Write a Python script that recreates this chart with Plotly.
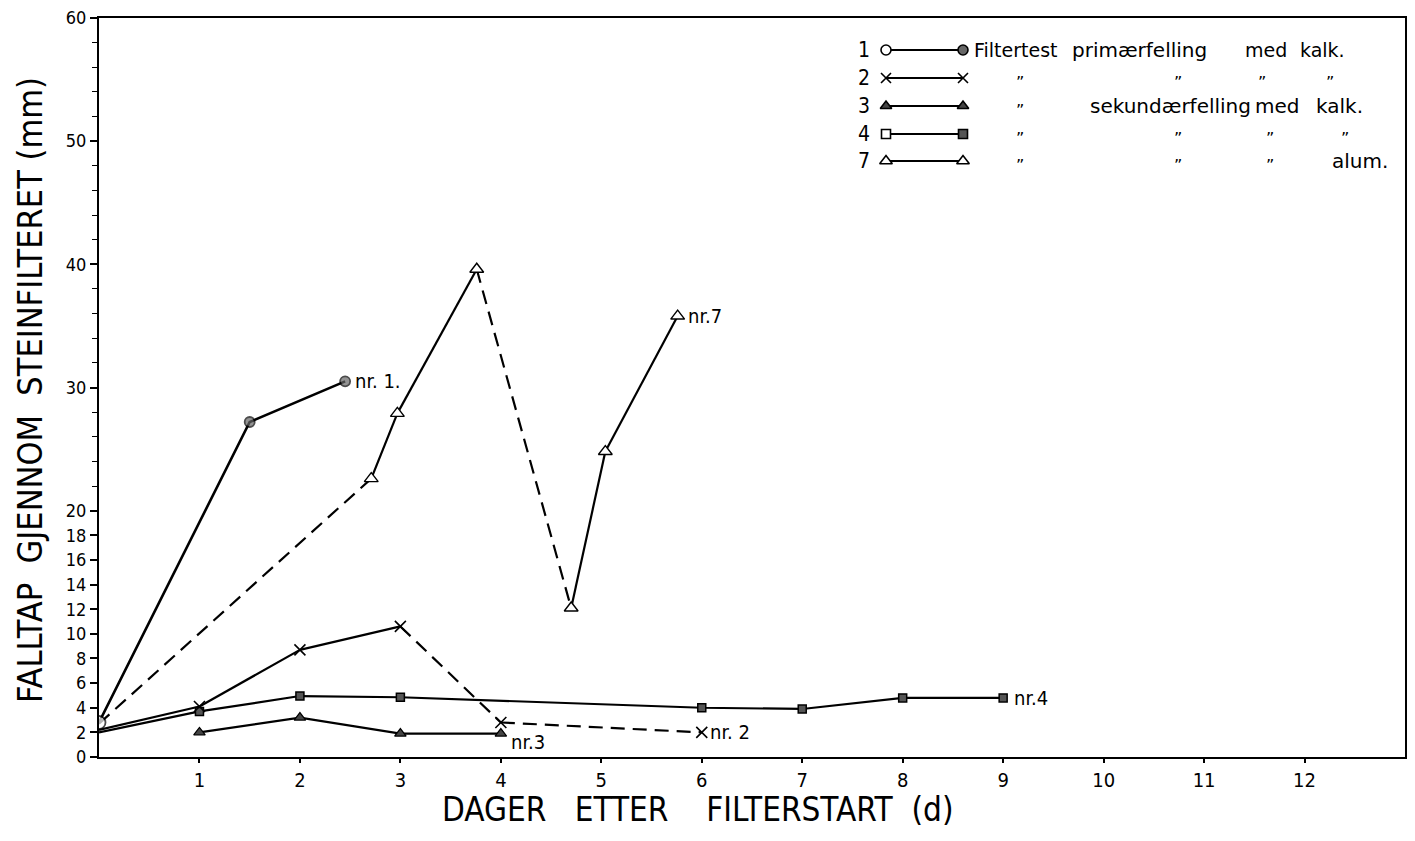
import plotly.graph_objects as go

# ---------------- data ----------------
s1_x = [0, 1.5, 2.45]
s1_y = [2.8, 27.2, 30.5]

s2_x = [0, 1, 2, 3, 4, 6]
s2_y = [2.2, 4.1, 8.7, 10.6, 2.8, 2.0]
s2_dashed = [False, False, False, True, True]

s3_x = [1, 2, 3, 4]
s3_y = [2.0, 3.2, 1.9, 1.9]

s4_x = [0, 1, 2, 3, 6, 7, 8, 9]
s4_y = [2.0, 3.7, 4.95, 4.85, 4.0, 3.9, 4.8, 4.8]

s7_x = [0, 2.71, 2.97, 3.76, 4.7, 5.04, 5.76]
s7_y = [2.7, 22.6, 27.9, 39.6, 12.1, 24.8, 35.8]
s7_dashed = [True, False, False, True, False, False]

x_ticks = list(range(1, 13))
y_ticks = [0, 2, 4, 6, 8, 10, 12, 14, 16, 18, 20, 30, 40, 50, 60]

legend_nums = ["1", "2", "3", "4", "7"]
x_title = "DAGER   ETTER    FILTERSTART  (d)"
y_title = "FALLTAP  GJENNOM  STEINFILTERET (mm)"

COND = "DejaVu Sans Condensed, Liberation Sans Narrow, Roboto Condensed, DejaVu Sans, sans-serif"
WIDE = "DejaVu Sans, Verdana, sans-serif"

# page geometry (the html body has an 8px margin)
BODY = 8
PAGE_W, PAGE_H = 1415, 841
L, R, T, B = 99, 1405, 18, 757          # plot area in page pixels
W, H = PAGE_W - 2 * BODY, PAGE_H - 2 * BODY
ml, mt = L - BODY, T - BODY
mr, mb = W - (R - BODY), H - (B - BODY)

LW = 2.2
DASH = "14px,8px"

fig = go.Figure()


def add_segments(xs, ys, dashed):
    for i in range(len(xs) - 1):
        fig.add_trace(go.Scatter(
            x=[xs[i], xs[i + 1]], y=[ys[i], ys[i + 1]], mode="lines",
            line=dict(color="black", width=LW, dash=DASH if dashed[i] else "solid"),
            showlegend=False, hoverinfo="skip"))


# series lines
fig.add_trace(go.Scatter(x=s1_x, y=s1_y, mode="lines", line=dict(color="black", width=LW + 0.4),
                         showlegend=False))
add_segments(s2_x, s2_y, s2_dashed)
fig.add_trace(go.Scatter(x=s3_x, y=s3_y, mode="lines", line=dict(color="black", width=LW),
                         showlegend=False))
fig.add_trace(go.Scatter(x=s4_x, y=s4_y, mode="lines", line=dict(color="black", width=LW),
                         showlegend=False))
add_segments(s7_x, s7_y, s7_dashed)

# markers
fig.add_trace(go.Scatter(x=s4_x[1:], y=s4_y[1:], mode="markers",
                         marker=dict(symbol="square", size=8, color="#555",
                                     line=dict(color="black", width=1.5)), showlegend=False))
fig.add_trace(go.Scatter(x=s3_x, y=s3_y, mode="markers",
                         marker=dict(symbol="triangle-up", size=10, color="#444",
                                     line=dict(color="black", width=1.2)), showlegend=False))
fig.add_trace(go.Scatter(x=s2_x[1:], y=s2_y[1:], mode="markers",
                         marker=dict(symbol="x-thin", size=11,
                                     line=dict(color="black", width=1.6)), showlegend=False))
fig.add_trace(go.Scatter(x=s7_x[1:], y=s7_y[1:], mode="markers",
                         marker=dict(symbol="triangle-up", size=12, color="white",
                                     line=dict(color="black", width=1.4)), showlegend=False))
fig.add_trace(go.Scatter(x=s1_x, y=s1_y, mode="markers",
                         marker=dict(symbol="circle", size=[13, 10, 10],
                                     color=["white", "#666", "#666"],
                                     line=dict(color="black", width=1.8)), showlegend=False))


# end labels
def end_label(text, x, y, xs=8, ys=0):
    fig.add_annotation(x=x, y=y, xref="x", yref="y", text=text, showarrow=False,
                       xanchor="left", yanchor="middle", xshift=xs, yshift=ys,
                       font=dict(family=COND, size=20, color="black"))


end_label("nr. 1.", s1_x[-1], s1_y[-1])
end_label("nr.7", s7_x[-1], s7_y[-1])
end_label("nr.3", s3_x[-1], s3_y[-1], xs=8, ys=-8)
end_label("nr. 2", s2_x[-1], s2_y[-1], xs=6)
end_label("nr.4", s4_x[-1], s4_y[-1], xs=9)

# ---------------- legend (custom, on an overlay axis in page-pixel units) ----------------
leg_rows_py = [50, 78, 106, 134, 161]
leg_x0, leg_x1 = 886, 963
leg_styles = [
    dict(sym=["circle", "circle"], col=["white", "#666"], size=10),
    dict(sym=["x-thin", "x-thin"], col=["black", "black"], size=10),
    dict(sym=["triangle-up", "triangle-up"], col=["#444", "#444"], size=10),
    dict(sym=["square", "square"], col=["white", "#555"], size=9),
    dict(sym=["triangle-up", "triangle-up"], col=["white", "white"], size=11),
]
for py, st in zip(leg_rows_py, leg_styles):
    fig.add_trace(go.Scatter(
        x=[leg_x0, leg_x1], y=[py, py], xaxis="x2", yaxis="y2", mode="lines+markers",
        line=dict(color="black", width=LW),
        marker=dict(symbol=st["sym"], size=st["size"], color=st["col"],
                    line=dict(color="black", width=1.6)),
        showlegend=False, hoverinfo="skip"))


def ptext(text, px, py, size=19, anchor="left", family=WIDE):
    fig.add_annotation(x=px, y=py, xref="x2", yref="y2", text=text, showarrow=False,
                       xanchor=anchor, yanchor="middle",
                       font=dict(family=family, size=size, color="black"))


for num, py in zip(legend_nums, leg_rows_py):
    ptext(num, 872, py, size=21, anchor="right", family=COND)

r = leg_rows_py
ptext("Filtertest", 972, r[0]); ptext("primærfelling", 1070, r[0], size=20)
ptext("med", 1243, r[0]); ptext("kalk.", 1298, r[0])
DQ = "\u201d"
for px in [1020, 1178, 1262, 1330]:
    ptext(DQ, px, r[1] + 4, size=16, anchor="center")
ptext(DQ, 1020, r[2] + 4, size=16, anchor="center")
ptext("sekundærfelling", 1088, r[2], size=20); ptext("med", 1253, r[2], size=20)
ptext("kalk.", 1314, r[2], size=20)
for px in [1020, 1178, 1270, 1345]:
    ptext(DQ, px, r[3] + 4, size=16, anchor="center")
for px in [1020, 1178, 1270]:
    ptext(DQ, px, r[4] + 4, size=16, anchor="center")
ptext("alum.", 1390, r[4], size=20, anchor="right")

# axis titles (positions relative to the plot area)
fig.add_annotation(x=0.5, y=0, xref="paper", yref="paper", text=x_title, showarrow=False,
                   xanchor="center", yanchor="middle", xshift=(697 - (L + R) / 2), yshift=-(809 - B),
                   font=dict(family=COND, size=33, color="black"))
fig.add_annotation(x=0, y=(B - 390) / (B - T), xref="paper", yref="paper", text=y_title,
                   showarrow=False, textangle=-90, xanchor="center", yanchor="middle",
                   xshift=30 - L, font=dict(family=COND, size=34, color="black"))

# ---------------- layout ----------------
axis_common = dict(showgrid=False, zeroline=False, linecolor="black", linewidth=2,
                   mirror=True, ticks="outside", tickcolor="black", tickwidth=1.5,
                   automargin=False, ticklabeloverflow="allow")

fig.update_layout(
    width=W, height=H,
    margin=dict(l=ml, r=mr, t=mt, b=mb, pad=0),
    paper_bgcolor="white", plot_bgcolor="white",
    showlegend=False,
    xaxis=dict(range=[0, 13], tickvals=x_ticks, ticklen=4, **axis_common,
               tickfont=dict(family=COND, size=20, color="black")),
    yaxis=dict(range=[0, 60], tickvals=y_ticks, ticklen=7, **axis_common,
               tickfont=dict(family=COND, size=18, color="black"),
               minor=dict(dtick=2, ticks="outside", ticklen=5, tickcolor="black", tickwidth=1.2)),
    xaxis2=dict(range=[L, R], overlaying="x", anchor="y2", visible=False, fixedrange=True),
    yaxis2=dict(range=[B, T], overlaying="y", anchor="x2", visible=False, fixedrange=True),
)

fig.write_html("out.html")
